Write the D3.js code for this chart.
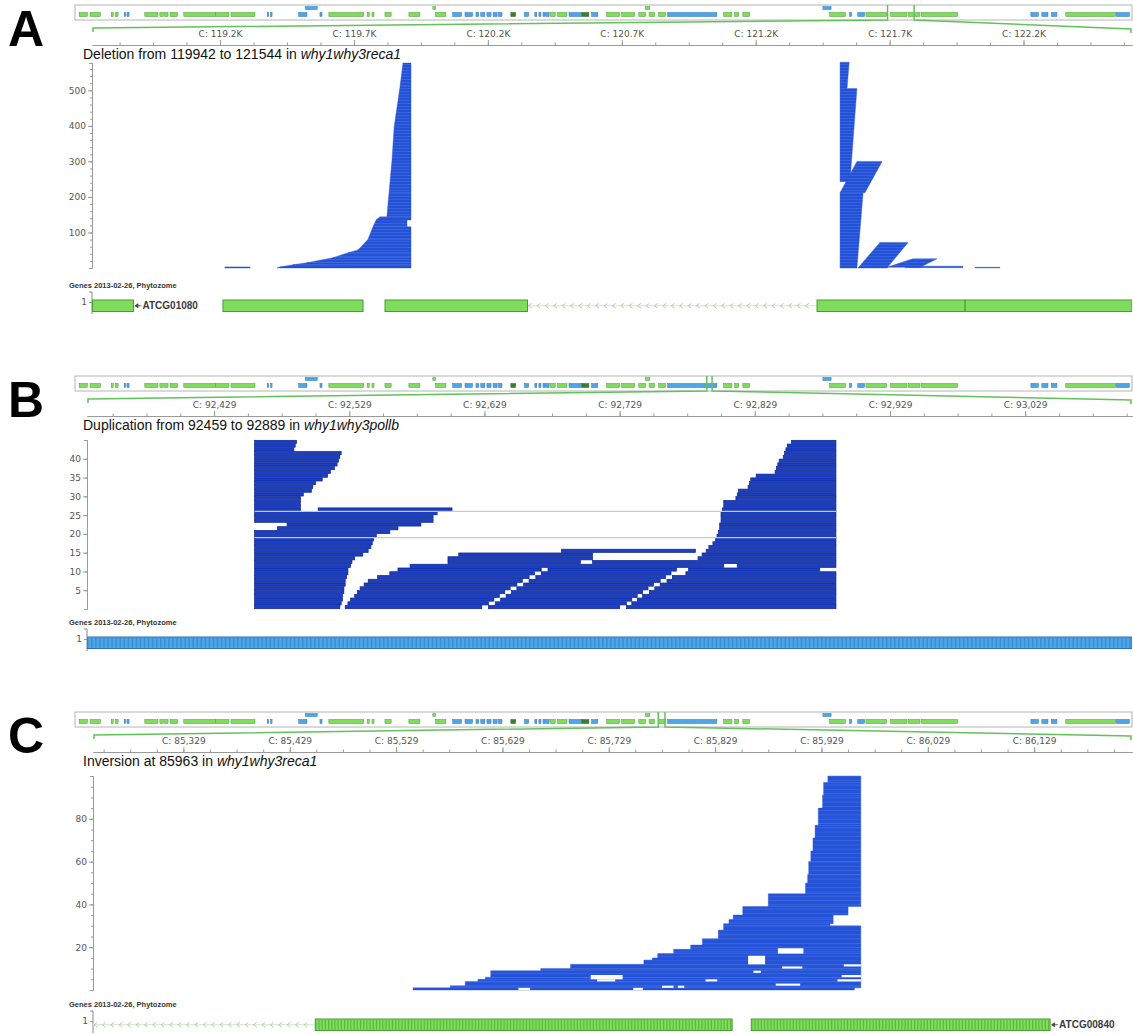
<!DOCTYPE html>
<html>
<head>
<meta charset="utf-8">
<script src="https://cdn.jsdelivr.net/npm/d3@7"></script>
<style>
  body { margin: 0; background: #fff; }
  svg { display: block; }
</style>
</head>
<body>
<svg id="fig"></svg>
<script>
const W = 1133, H = 1035;

// chloroplast overview, values in kb: [start, end, row (0 low / 1 high), kind]
const genomeLength = 154478;
const overviewGenes = [
  [0.6,1.8,0,"g"],[2.2,3.7,0,"g"],[5.3,5.6,0,"g"],[5.9,6.3,0,"g"],[7.2,7.4,0,"b"],[7.6,7.9,0,"b"],
  [10.2,12.1,0,"g"],[12.4,12.9,0,"g"],[13.1,13.6,0,"g"],[13.9,15.0,0,"g"],[15.9,20.5,0,"g"],[20.5,22.5,0,"g"],[22.8,26.3,0,"g"],
  [28.1,28.3,0,"b"],[28.6,28.8,0,"b"],[32.7,33.9,0,"b"],[33.7,35.4,1,"b"],[35.8,36.1,0,"b"],
  [37.1,42.2,0,"g"],[42.7,43.0,0,"g"],[43.4,43.7,0,"g"],[45.3,46.2,0,"g"],[48.8,50.4,0,"g"],
  [52.3,52.7,1,"g"],[52.7,54.2,0,"g"],[55.2,56.5,0,"b"],[57.0,58.1,0,"b"],[58.6,59.0,0,"b"],[59.3,59.9,0,"b"],
  [60.2,60.8,0,"b"],[61.1,61.7,0,"b"],[61.9,62.4,0,"b"],[63.7,64.4,0,"d"],[65.7,66.3,0,"b"],[67.2,67.5,0,"b"],
  [67.8,68.1,0,"b"],[68.4,68.7,0,"b"],[68.8,69.3,0,"b"],[69.5,70.2,0,"g"],[70.5,71.9,0,"g"],
  [72.2,74.1,0,"b"],[74.1,75.1,0,"d"],[75.5,76.4,0,"b"],[77.7,79.6,0,"g"],[79.9,81.8,0,"g"],[82.4,83.4,0,"g"],
  [83.4,84.0,1,"g"],[83.9,84.7,0,"g"],[85.3,86.3,0,"g"],[86.6,93.8,0,"b"],[94.8,96.0,0,"g"],[96.4,97.0,0,"g"],
  [97.6,98.6,0,"g"],[109.3,110.5,1,"b"],[110.3,112.6,0,"g"],[113.2,113.5,0,"b"],[114.4,115.4,0,"b"],
  [115.6,118.6,0,"g"],[119.2,121.6,0,"g"],[121.8,123.5,0,"g"],[123.7,129.0,0,"g"],
  [139.7,140.8,0,"b"],[141.3,142.2,0,"b"],[142.7,143.5,0,"b"],[144.8,152.1,0,"g"],[152.2,154.1,0,"b"]
];

// ---- panel A : deletion ----
const viewA = [118751, 122634];
const ticksA = [119229, 119729, 120229, 120729, 121229, 121729, 122229];
const titleA = ["Deletion from 119942 to 121544 in ", "why1why3reca1"];
const depthTicksA = [100, 200, 300, 400, 500];
// read groups: [depth0, depth1, start@depth0, start@depth1, end@depth0, end@depth1]
const readsA = [
  [0,3,119247,119247,119341,119341],
  [0,3,119442,119453,119942,119942],[3,9,119453,119501,119942,119942],[9,15,119501,119554,119942,119942],
  [15,29,119554,119651,119942,119942],[29,43,119651,119707,119942,119942],[43,51,119707,119744,119942,119942],
  [51,80,119744,119781,119942,119942],[80,116,119781,119800,119942,119942],[116,135,119800,119812,119927,119927],
  [135,144,119812,119826,119942,119942],[144,212,119852,119860,119942,119942],[212,304,119860,119871,119942,119942],
  [304,397,119871,119879,119942,119942],[397,510,119879,119901,119942,119942],[510,577,119901,119912,119942,119942],
  [505,579,121544,121544,121570,121578],[243,505,121544,121544,121581,121607],[212,300,121544,121607,121637,121701],
  [0,212,121544,121544,121607,121630],[0,72,121611,121693,121719,121798],[2,26,121719,121816,121843,121906],
  [1,5,121786,121831,122003,122003],[0,2,122048,122048,122141,122141]
];
const exonsA = [[118753,118906],[119240,119763],[119845,120377],[121458,122011],[122011,122634]];
const intronsA = [[120377,121458]];
const labelA = [118906, "ATCG01080"];

// ---- panel B : duplication ----
const viewB = [92335, 93108];
const ticksB = [92429, 92529, 92629, 92729, 92829, 92929, 93029];
const titleB = ["Duplication from 92459 to 92889 in ", "why1why3pollb"];
const depthTicksB = [5, 10, 15, 20, 25, 30, 35, 40];
// one list of [start, end] per read row, top row first
const readsB = [
  [[92459,92490],[92856,92889]],[[92459,92489],[92853,92889]],[[92459,92488],[92852,92889]],
  [[92459,92523],[92851,92889]],[[92459,92522],[92850,92889]],[[92459,92521],[92847,92889]],
  [[92459,92520],[92846,92889]],[[92459,92518],[92845,92889]],[[92459,92515],[92844,92889]],
  [[92459,92513],[92830,92889]],[[92459,92509],[92826,92889]],[[92459,92504],[92825,92889]],
  [[92459,92502],[92824,92889]],[[92459,92501],[92817,92889]],[[92459,92495],[92816,92889]],
  [[92459,92493],[92815,92889]],[[92459,92493],[92806,92889]],[[92459,92493],[92806,92889]],
  [[92459,92493],[92506,92605],[92805,92889]],[[92459,92594],[92804,92889]],[[92459,92591],[92804,92889]],
  [[92459,92591],[92804,92889]],[[92483,92582],[92803,92889]],[[92476,92565],[92803,92889]],
  [[92459,92559],[92802,92889]],[[92459,92549],[92801,92889]],[[92459,92547],[92800,92889]],
  [[92459,92546],[92798,92889]],[[92459,92545],[92795,92889]],[[92459,92543],[92686,92785],[92793,92889]],
  [[92459,92539],[92610,92709],[92790,92889]],[[92459,92533],[92602,92709],[92787,92889]],
  [[92459,92531],[92602,92700],[92709,92889]],[[92459,92530],[92574,92806],[92816,92889]],
  [[92459,92528],[92565,92671],[92676,92771],[92780,92877]],
  [[92459,92528],[92559,92666],[92671,92767],[92778,92889]],
  [[92459,92527],[92550,92662],[92667,92763],[92768,92889]],
  [[92459,92526],[92543,92657],[92662,92759],[92764,92889]],
  [[92459,92526],[92540,92653],[92658,92754],[92759,92889]],
  [[92459,92525],[92537,92648],[92653,92750],[92755,92889]],
  [[92459,92525],[92535,92644],[92649,92746],[92751,92889]],
  [[92459,92524],[92533,92640],[92645,92742],[92746,92889]],
  [[92459,92524],[92530,92636],[92641,92738],[92742,92889]],
  [[92459,92523],[92528,92632],[92637,92734],[92738,92889]],
  [[92459,92522],[92526,92627],[92632,92729],[92734,92889]]
];
const lightRowsB = [19, 26];
const exonsB = [[92335,93108]];

// ---- panel C : inversion ----
const viewC = [85244, 86221];
const ticksC = [85329, 85429, 85529, 85629, 85729, 85829, 85929, 86029, 86129];
const titleC = ["Inversion at 85963 in ", "why1why3reca1"];
const depthTicksC = [20, 40, 60, 80];
// read groups: [depth0, depth1, start, end]
const readsC = [
  [0,1,85545,85960],[1,2,85580,85966],[2,4,85594,85966],[4,5,85606,85966],[5,6,85613,85966],
  [6,9,85618,85966],[9,10,85665,85966],[10,12,85693,85966],[12,14,85762,85966],[14,15,85770,85966],
  [15,17,85775,85966],[17,19,85790,85966],[19,21,85806,85966],[21,24,85817,85966],[24,28,85832,85966],
  [28,30,85837,85966],[30,31,85837,85937],[31,33,85842,85940],[33,35,85846,85940],[35,39,85855,85954],
  [39,45,85879,85966],[45,50,85914,85966],[50,54,85916,85966],[54,60,85917,85966],[60,65,85919,85966],
  [65,71,85921,85966],[71,77,85923,85966],[77,85,85926,85966],[85,91,85930,85966],[91,97,85931,85966],
  [97,100,85935,85966]
];
// holes inside the pile: [depth0, depth1, start, end]
const gapsC = [
  [17,19.5,85888,85912],[12,16,85860,85876],[11,12,85950,85966],[10,11,85892,85911],[8,9,85865,85872],
  [5,7,85712,85742],[4,5,85718,85735],[6,7,85948,85966],[4,5,85944,85966],[4,5,85820,85831],
  [2,3,85886,85909],[1,2,85779,85790],[1,2,85794,85800],[0,1,85644,85655],[0,1,85752,85761]
];
const exonsC = [[85453,85845],[85863,86144]];
const intronsC = [[85244,85453]];
const labelC = [86144, "ATCG00840"];

const sans = "'Liberation Sans', Arial, sans-serif";
const dv = "'DejaVu Sans', Verdana, sans-serif";
const kinds = {
  g: {fill: "#7fdc5c", stroke: "#4a9b33"},
  b: {fill: "#4fa6e6", stroke: "#2c72b5"},
  d: {fill: "#3d7f2c", stroke: "#2b5f1f"}
};

const svg = d3.select("#fig").attr("width", W).attr("height", H).attr("viewBox", [0, 0, W, H]);
svg.append("rect").attr("width", W).attr("height", H).attr("fill", "#fff");
const defs = svg.append("defs");

const ovX = d3.scaleLinear([0, genomeLength], [75, 1132]);
const commaFmt = d3.format(",");

const panels = [
  {letter: "A", top: 0, view: viewA, x0: 92, ticks: ticksA, fmt: d => "C: " + (d / 1000).toFixed(1) + "K",
   title: titleA, depthMax: 577, pileTop: 63, pileBottom: 268, depthTicks: depthTicksA, minorStep: 20,
   blocks: readsA, color: "#2452d6", rowPx: 3, genesY: 288, exons: exonsA, introns: intronsA, label: labelA, kind: "g", codons: false},
  {letter: "B", top: 371, view: viewB, x0: 87, ticks: ticksB, fmt: d => "C: " + commaFmt(d),
   title: titleB, depthMax: 45, pileTop: 440, pileBottom: 609, depthTicks: depthTicksB, minorStep: 5,
   rows: readsB, light: lightRowsB, color: "#1b3ec6", genesY: 625, exons: exonsB, introns: [], kind: "b", codons: true},
  {letter: "C", top: 707, view: viewC, x0: 93, ticks: ticksC, fmt: d => "C: " + commaFmt(d),
   title: titleC, depthMax: 100, pileTop: 776, pileBottom: 990, depthTicks: depthTicksC, minorStep: 5,
   blocks: readsC.map(b => [b[0], b[1], b[2], b[2], b[3], b[3]]), gaps: gapsC, color: "#2453d8", rowPx: 4.28,
   genesY: 1007, exons: exonsC, introns: intronsC, label: labelC, kind: "g", codons: true}
];

function styleAxis(sel) {
  sel.select(".domain").attr("stroke", "#9a9a9a");
  sel.selectAll(".tick line").attr("stroke", "#9a9a9a");
  sel.selectAll(".tick text").attr("fill", "#555").style("font-family", dv).style("font-size", "9px");
}

panels.forEach(p => {
  const T = p.top;
  const g = svg.append("g").attr("transform", `translate(0,${T})`);
  const x = d3.scaleLinear(p.view, [p.x0, 1132]);
  const y = d3.scaleLinear([0, p.depthMax], [p.pileBottom - T, p.pileTop - T]);

  // panel letter
  g.append("text").attr("x", 8).attr("y", 45.5).text(p.letter)
    .style("font-family", sans).style("font-weight", "bold").style("font-size", "50px").attr("fill", "#000");

  // overview strip
  g.append("rect").attr("x", 75).attr("y", 5).attr("width", 1057).attr("height", 15)
    .attr("fill", "#fff").attr("stroke", "#b4b4b4");
  g.append("g").selectAll("rect").data(overviewGenes).join("rect")
    .attr("x", d => ovX(d[0] * 1000))
    .attr("width", d => Math.max(1, ovX(d[1] * 1000) - ovX(d[0] * 1000)))
    .attr("y", d => d[2] ? 6.5 : 12.5).attr("height", d => d[2] ? 3 : 4)
    .attr("fill", d => kinds[d[3]].fill).attr("stroke", d => kinds[d[3]].stroke).attr("stroke-width", 0.5);
  const hx0 = ovX(p.view[0]), hx1 = ovX(p.view[1]);
  g.append("path")
    .attr("d", `M${hx0},5V20L${p.x0 + 1},28V32M${hx1},5V20L1131,29V33`)
    .attr("fill", "none").attr("stroke", "#62c25a").attr("stroke-width", 1.5);

  // position axis
  const minor = d3.range(p.ticks[0] - 4 * (p.ticks[1] - p.ticks[0]), p.view[1], (p.ticks[1] - p.ticks[0]) / 4)
    .filter(v => v >= p.view[0] && v <= p.view[1]);
  g.append("g").attr("transform", "translate(0,45)")
    .call(d3.axisTop(x).tickValues(minor).tickSize(2.5).tickSizeOuter(0).tickFormat(""))
    .call(styleAxis);
  g.append("g").attr("transform", "translate(0,45)")
    .call(d3.axisTop(x).tickValues(p.ticks).tickSize(5).tickSizeOuter(0).tickPadding(3).tickFormat(p.fmt))
    .call(styleAxis);

  // title
  const t = g.append("text").attr("x", 83).attr("y", 59).style("font-family", sans).style("font-size", "14px").attr("fill", "#111");
  t.append("tspan").text(p.title[0]);
  t.append("tspan").style("font-style", "italic").text(p.title[1]);

  // depth axis
  g.append("g").attr("transform", `translate(${p.x0},0)`)
    .call(d3.axisLeft(y).tickValues(d3.range(p.minorStep, p.depthMax, p.minorStep)).tickSize(2).tickSizeOuter(3).tickFormat(""))
    .call(styleAxis);
  g.append("g").attr("transform", `translate(${p.x0},0)`)
    .call(d3.axisLeft(y).tickValues(p.depthTicks).tickSize(4).tickSizeOuter(0).tickPadding(2))
    .call(styleAxis);

  // reads
  if (p.blocks) {
    const pat = defs.append("pattern").attr("id", "rows" + p.letter).attr("patternUnits", "userSpaceOnUse")
      .attr("width", 10).attr("height", p.rowPx).attr("y", y(0));
    pat.append("rect").attr("width", 10).attr("height", p.rowPx).attr("fill", p.color);
    pat.append("rect").attr("width", 10).attr("height", 0.6).attr("fill", "#5f83ea").attr("opacity", 0.55);
    g.append("g").selectAll("path").data(p.blocks).join("path")
      .attr("d", b => `M${x(b[2])},${y(b[0])}L${x(b[4])},${y(b[0])}L${x(b[5])},${y(b[1])}L${x(b[3])},${y(b[1])}Z`)
      .attr("fill", `url(#rows${p.letter})`).attr("stroke", p.color).attr("stroke-width", 0.4);
    if (p.gaps) {
      g.append("g").selectAll("rect").data(p.gaps).join("rect")
        .attr("x", d => x(d[2])).attr("width", d => x(d[3]) - x(d[2]))
        .attr("y", d => y(d[1])).attr("height", d => y(d[0]) - y(d[1])).attr("fill", "#fff");
    }
  }
  if (p.rows) {
    const segs = [];
    p.rows.forEach((row, r) => row.forEach(s => segs.push({d: p.rows.length - r, s: s[0], e: s[1]})));
    g.append("g").selectAll("rect").data(segs).join("rect")
      .attr("x", d => x(d.s)).attr("width", d => x(d.e) - x(d.s))
      .attr("y", d => y(d.d) + 0.3).attr("height", d => y(d.d - 1) - y(d.d) - 0.6)
      .attr("fill", p.color).attr("stroke", "#0d2688").attr("stroke-width", 0.7);
    const ext = d3.extent(segs.flatMap(d => [d.s, d.e]));
    g.append("g").selectAll("line").data(p.light).join("line")
      .attr("x1", x(ext[0])).attr("x2", x(ext[1])).attr("y1", d => y(d)).attr("y2", d => y(d))
      .attr("stroke", "#c9c9d2").attr("stroke-width", 1.1);
  }

  // gene track
  const gy = p.genesY - T;
  g.append("text").attr("x", 69).attr("y", gy).text("Genes 2013-02-26, Phytozome")
    .style("font-family", sans).style("font-weight", "bold").style("font-size", "7.5px").attr("fill", "#333");
  const ty = d3.scalePoint([1], [gy + 14, gy + 14]);
  g.append("path").attr("d", `M${p.x0 - 3},${gy + 4}H${p.x0}V${gy + 26}`).attr("fill", "none").attr("stroke", "#888");
  g.append("g").attr("transform", `translate(${p.x0},0)`)
    .call(d3.axisLeft(ty).tickSize(3).tickSizeOuter(0).tickPadding(2))
    .call(sel => sel.select(".domain").remove())
    .call(styleAxis);
  const k = kinds[p.kind];
  const by = gy + 12, bh = 11.5;
  const clipId = "clip" + p.letter;
  defs.append("clipPath").attr("id", clipId).append("rect")
    .attr("x", p.x0).attr("y", gy).attr("width", 1132 - p.x0).attr("height", 30);
  const track = g.append("g").attr("clip-path", `url(#${clipId})`);
  // introns with chevrons
  p.introns.forEach(iv => {
    const a = x(iv[0]), b = x(iv[1]), cy = by + bh / 2;
    track.append("line").attr("x1", a).attr("x2", b).attr("y1", cy).attr("y2", cy)
      .attr("stroke", "#c7dcc1").attr("stroke-width", 0.8);
    track.append("g").selectAll("path").data(d3.range(a + 1, b - 3, 8.4)).join("path")
      .attr("d", v => `M${v + 3.2},${cy - 2.4}L${v},${cy}L${v + 3.2},${cy + 2.4}`)
      .attr("fill", "none").attr("stroke", "#a8cb9d").attr("stroke-width", 0.9);
  });
  track.append("g").selectAll("rect").data(p.exons).join("rect")
    .attr("x", d => x(d[0])).attr("width", d => x(d[1]) - x(d[0]))
    .attr("y", by).attr("height", bh).attr("fill", k.fill).attr("stroke", k.stroke).attr("stroke-width", 1);
  if (p.codons) {
    const cod = [];
    p.exons.forEach(e => { for (let v = e[0]; v < e[1] - 1; v += 3) cod.push(v); });
    track.append("g").selectAll("rect").data(cod.filter(v => x(v) > p.x0 - 5 && x(v) < 1135)).join("rect")
      .attr("x", v => x(v)).attr("width", Math.max(0.8, (x(p.view[0] + 1) - x(p.view[0])) * 1.1))
      .attr("y", by + 0.8).attr("height", bh - 1.6)
      .attr("fill", p.kind === "b" ? "#2e86cf" : "#4fb232").attr("opacity", 0.75);
  }
  if (p.label) {
    const lx = x(p.label[0]), cy = by + bh / 2;
    g.append("path").attr("d", `M${lx + 1.5},${cy}l3,-2v4z M${lx + 4},${cy}h4`)
      .attr("fill", "#444").attr("stroke", "#444").attr("stroke-width", 0.8);
    g.append("text").attr("x", lx + 9).attr("y", cy + 3.6).text(p.label[1])
      .style("font-family", sans).style("font-weight", "bold").style("font-size", "10px").attr("fill", "#3a3a3a");
  }
});
</script>
</body>
</html>
